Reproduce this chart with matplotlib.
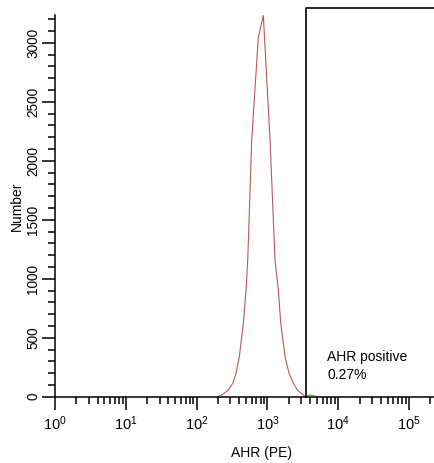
import math
import matplotlib
matplotlib.use("Agg")
import matplotlib.pyplot as plt
from matplotlib.ticker import FixedLocator, FuncFormatter, MultipleLocator, LogLocator, NullFormatter

plt.rcParams['font.family'] = ['Liberation Sans', 'DejaVu Sans']
plt.rcParams['mathtext.fontset'] = 'custom'
plt.rcParams['mathtext.rm'] = 'Liberation Sans'

# Histogram (fluorescence intensity, event count)
hist_x = [200, 226, 281, 324, 360, 401, 457, 499, 527, 600, 743, 875,
          1089, 1280, 1426, 1542, 1774, 2020, 2322, 2644, 3213, 3510]
hist_y = [0, 14, 57, 114, 198, 339, 622, 904, 1158, 2175, 3046, 3230,
          2175, 1158, 904, 622, 339, 198, 114, 57, 14, 0]

# Events inside the positive gate
pos_x = [3510, 3900, 4400, 4970]
pos_y = [4, 14, 10, 0]

# Gate and labels
gate_left = 3510
gate_right = 225000
gate_top = 3294
gate_name = "AHR positive"
gate_pct = "0.27%"

x_label = "AHR (PE)"
y_label = "Number"
x_min, x_max = 1, 225000
y_min, y_max = 0, 3235
y_major = [0, 500, 1000, 1500, 2000, 2500, 3000]

W, H = 434, 463
fig = plt.figure(figsize=(W / 100, H / 100), dpi=100)
ax = fig.add_axes([55 / W, (H - 396.7) / H, 379 / W, (396.7 - 15) / H])

ax.plot(hist_x, hist_y, color='#b85a5a', lw=0.8)
ax.plot(pos_x, pos_y, color='#4caf50', lw=0.8)

ax.plot([gate_left, gate_left, gate_right], [0, gate_top, gate_top],
        color='black', lw=1.2, clip_on=False)

ax.set_xscale('log')
ax.set_xlim(x_min, x_max)
ax.set_ylim(y_min, y_max)

for s in ['top', 'right']:
    ax.spines[s].set_visible(False)
for s in ['left', 'bottom']:
    ax.spines[s].set_linewidth(1.1)

ax.xaxis.set_major_locator(LogLocator(base=10, numticks=10))
ax.xaxis.set_minor_locator(LogLocator(base=10, subs=range(2, 10), numticks=100))
ax.xaxis.set_major_formatter(FuncFormatter(lambda v, p: r'$\mathregular{10^{%d}}$' % round(math.log10(v))))
ax.xaxis.set_minor_formatter(NullFormatter())

ax.yaxis.set_major_locator(FixedLocator(y_major))
ax.yaxis.set_minor_locator(MultipleLocator(100))

ax.tick_params(axis='both', which='major', length=9.3, width=1.1, colors='black')
ax.tick_params(axis='both', which='minor', length=4.8, width=1.1)
ax.tick_params(axis='x', which='major', pad=3.5, labelsize=10.5)
ax.tick_params(axis='y', which='major', pad=1.5, labelsize=9.8, labelrotation=90)
for lab in ax.get_yticklabels():
    lab.set_va('center')

ax.text(6950, 335, gate_name, fontsize=10, va='center', ha='left')
ax.text(6950, 183, gate_pct, fontsize=10, va='center', ha='left')

ax.set_xlabel(x_label, fontsize=10)
ax.set_ylabel(y_label, fontsize=10)
ax.xaxis.set_label_coords((261.5 - 55) / 379, -(453 - 396.7) / 381.7)
ax.xaxis.label.set_va('center')
ax.yaxis.set_label_coords(-(55 - 17) / 379, (396.7 - 206) / 381.7)
ax.yaxis.label.set_va('center')

fig.savefig('out.png', dpi=100)
